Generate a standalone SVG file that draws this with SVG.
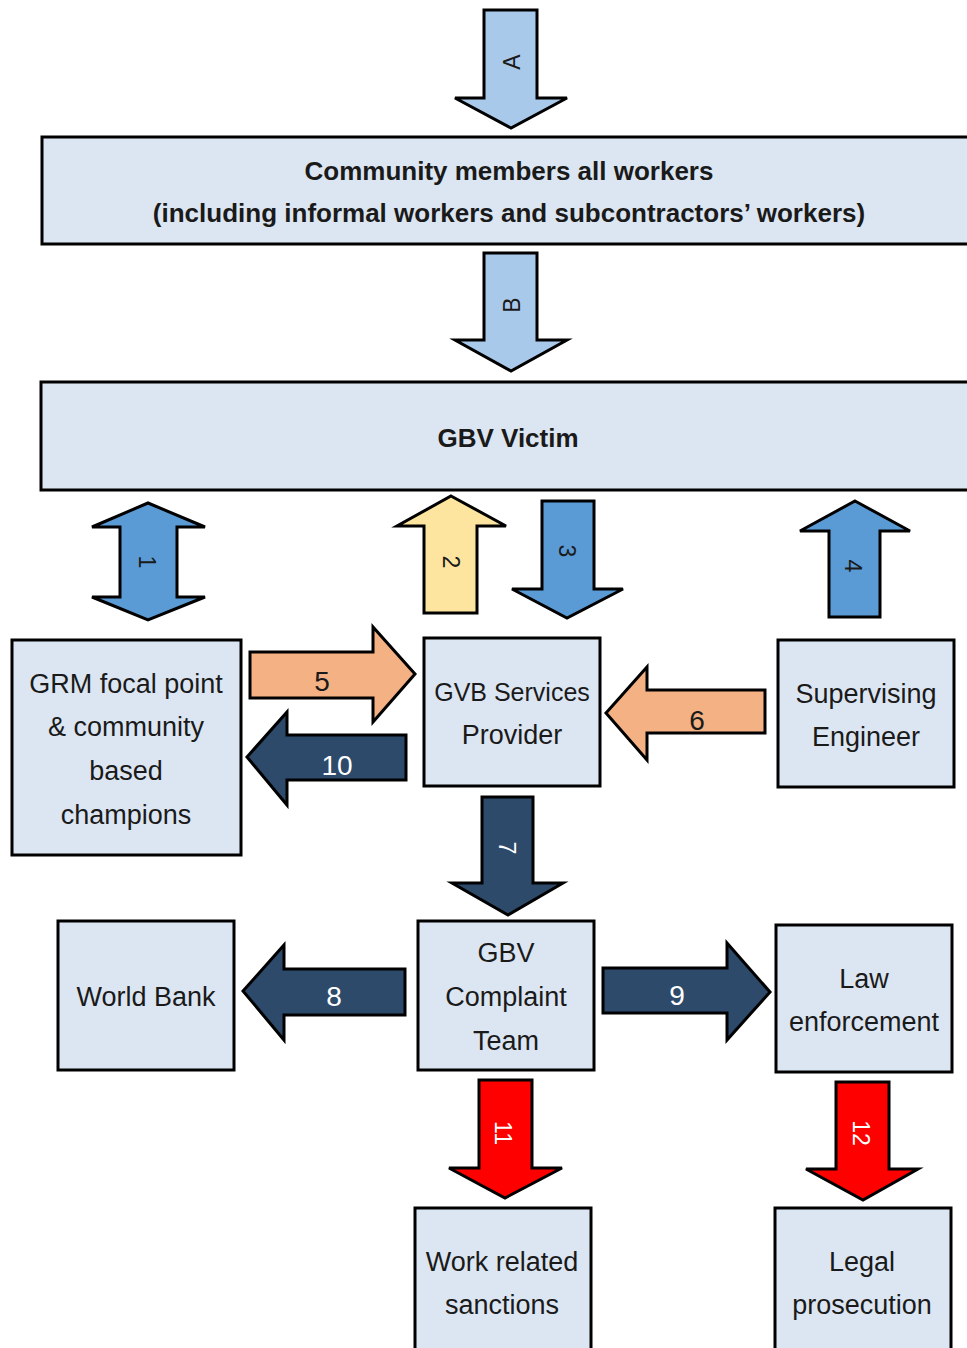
<svg xmlns="http://www.w3.org/2000/svg" width="967" height="1348" viewBox="0 0 967 1348">
<style>
.box{fill:#dce6f2;stroke:#000;stroke-width:3}
.t{font-family:"Liberation Sans",Arial,sans-serif;font-size:27px;fill:#1a1a1a;text-anchor:middle}
.s{font-size:25px}
.b{font-family:"Liberation Sans",Arial,sans-serif;font-size:26px;font-weight:bold;fill:#1a1a1a;text-anchor:middle}
.ar{stroke:#000;stroke-width:3;stroke-linejoin:miter}
.lt{fill:#a9c9ea}.bl{fill:#5b9bd5}.ye{fill:#fde59f}.or{fill:#f4b183}.nv{fill:#2d4a6a}.rd{fill:#ff0000}
.l{font-family:"Liberation Sans",Arial,sans-serif;font-size:28px;text-anchor:middle;dominant-baseline:central}
.r{font-family:"Liberation Sans",Arial,sans-serif;font-size:23px;text-anchor:middle;dominant-baseline:central}
.k{fill:#1a1a1a}.w{fill:#ffffff}
</style>
<rect width="967" height="1348" fill="#ffffff"/>
<g id="connectors">
<g id="arrowA"><polygon class="ar lt" points="484,10 537,10 537,98 567,98 511,128 455,98 484,98"/><text class="r k" transform="translate(512,62) rotate(-90)">A</text></g>
<g id="arrowB"><polygon class="ar lt" points="484,253 537,253 537,340 567,340 511,371 455,340 484,340"/><text class="r k" transform="translate(512,305) rotate(-90)">B</text></g>
<g id="arrow1"><polygon class="ar bl" points="148,503 205,527 177,527 177,597 205,597 148,620 92,597 120,597 120,527 92,527"/><text class="r k" transform="translate(147,562) rotate(90)">1</text></g>
<g id="arrow2"><polygon class="ar ye" points="451,496 506,526 477,526 477,613 424,613 424,526 397,526"/><text class="r k" transform="translate(451,562) rotate(90)">2</text></g>
<g id="arrow3"><polygon class="ar bl" points="542,501 594,501 594,589 623,589 567,618 512,589 542,589"/><text class="r k" transform="translate(567,551) rotate(90)">3</text></g>
<g id="arrow4"><polygon class="ar bl" points="855,501 910,531 880,531 880,617 829,617 829,531 800,531"/><text class="r k" transform="translate(853,566) rotate(90)">4</text></g>
<g id="arrow5"><polygon class="ar or" points="250,652 373,652 373,627 415,674 373,722 373,698 250,698"/><text class="l k" x="322" y="681">5</text></g>
<g id="arrow10"><polygon class="ar nv" points="406,735 287,735 287,712 247,757 287,805 287,780 406,780"/><text class="l w" x="337" y="765">10</text></g>
<g id="arrow6"><polygon class="ar or" points="765,690 647,690 647,667 606,713 647,760 647,733 765,733"/><text class="l k" x="697" y="720">6</text></g>
<g id="arrow7"><polygon class="ar nv" points="482,797 533,797 533,883 563,883 508,915 452,883 482,883"/><text class="r w" transform="translate(507,848) rotate(90)">7</text></g>
<g id="arrow8"><polygon class="ar nv" points="405,969 284,969 284,945 243,991 284,1040 284,1015 405,1015"/><text class="l w" x="334" y="996">8</text></g>
<g id="arrow9"><polygon class="ar nv" points="603,968 727,968 727,943 770,992 727,1040 727,1013 603,1013"/><text class="l w" x="677" y="995">9</text></g>
<g id="arrow11"><polygon class="ar rd" points="479,1080 532,1080 532,1168 562,1168 505,1198 449,1168 479,1168"/><text class="r w" transform="translate(503,1133) rotate(90)">11</text></g>
<g id="arrow12"><polygon class="ar rd" points="836,1082 889,1082 889,1169 918,1169 863,1200 806,1169 836,1169"/><text class="r w" transform="translate(861,1133) rotate(90)">12</text></g>
</g>
<g id="community"><rect class="box" x="42" y="137" width="940" height="107"/><text class="b" x="509" y="180">Community members all workers</text><text class="b" x="509" y="222">(including informal workers and subcontractors’ workers)</text></g>
<g id="victim"><rect class="box" x="41" y="382" width="940" height="108"/><text class="b" x="508" y="447">GBV Victim</text></g>
<g id="grm"><rect class="box" x="12" y="640" width="229" height="215"/><text class="t" x="126" y="693">GRM focal point</text><text class="t" x="126" y="736">&amp; community</text><text class="t" x="126" y="780">based</text><text class="t" x="126" y="824">champions</text></g>
<g id="provider"><rect class="box" x="424" y="638" width="176" height="148"/><text class="t s" x="512" y="701">GVB Services</text><text class="t" x="512" y="744">Provider</text></g>
<g id="engineer"><rect class="box" x="778" y="640" width="176" height="147"/><text class="t" x="866" y="703">Supervising</text><text class="t" x="866" y="746">Engineer</text></g>
<g id="worldbank"><rect class="box" x="58" y="921" width="176" height="149"/><text class="t" x="146" y="1006">World Bank</text></g>
<g id="complaint"><rect class="box" x="418" y="921" width="176" height="149"/><text class="t" x="506" y="962">GBV</text><text class="t" x="506" y="1006">Complaint</text><text class="t" x="506" y="1050">Team</text></g>
<g id="law"><rect class="box" x="776" y="925" width="176" height="147"/><text class="t" x="864" y="988">Law</text><text class="t" x="864" y="1031">enforcement</text></g>
<g id="sanctions"><rect class="box" x="415" y="1208" width="176" height="160"/><text class="t" x="502" y="1271">Work related</text><text class="t" x="502" y="1314">sanctions</text></g>
<g id="prosecution"><rect class="box" x="775" y="1208" width="176" height="160"/><text class="t" x="862" y="1271">Legal</text><text class="t" x="862" y="1314">prosecution</text></g>
</svg>
